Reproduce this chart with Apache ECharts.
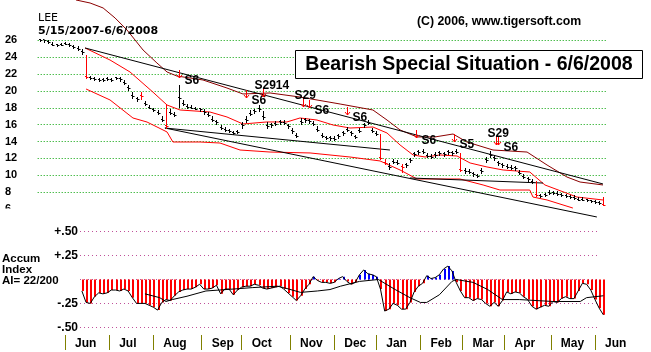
<!DOCTYPE html>
<html><head><meta charset="utf-8">
<script src="https://cdn.jsdelivr.net/npm/echarts@6/dist/echarts.min.js"></script>
<style>html,body{margin:0;padding:0;background:#fff}#c{width:651px;height:352px}</style>
</head><body><div id="c"></div>
<script>
// ---------- DATA ----------
const ticker = 'LEE';
const dateRange = '5/15/2007-6/6/2008';
const copyright = '(C) 2006, www.tigersoft.com';
const titleText = 'Bearish Special Situation - 6/6/2008';
const aiText = 'Accum\nIndex\nAI= 22/200';
const monthNames = ['Jun','Jul','Aug','Sep','Oct','Nov','Dec','Jan','Feb','Mar','Apr','May','Jun'];
const monthStartDays = [12,33,54,77,96,119,140,160,181,201,221,243,264]; // trading-day index
const barStep = 2; // one bar every 2 trading days, starting day 0 (5/15/2007)
const closes = [26.0,26.0,25.8,25.5,25.4,25.4,25.6,25.5,25.2,25.0,
 24.6,21.6,21.5,21.4,21.3,21.3,21.4,21.3,21.5,21.4,
 21.0,20.3,19.4,19.0,19.4,18.4,18.0,17.7,17.4,16.6,
 15.8,17.4,17.2,19.2,18.5,18.1,18.0,17.9,17.8,17.5,
 17.2,16.6,16.3,15.6,15.4,15.2,15.0,15.1,16.0,16.6,
 17.3,17.6,17.9,16.9,15.8,15.9,16.1,16.3,16.2,15.8,
 15.2,14.6,16.3,16.5,16.4,16.1,15.4,14.7,14.4,14.4,
 14.3,14.6,15.0,15.4,15.0,14.5,15.3,15.9,16.2,15.3,
 14.9,12.0,11.5,11.0,11.6,11.5,11.0,11.2,11.8,12.5,
 12.7,12.8,12.3,12.2,12.4,12.6,12.5,12.7,12.6,12.8,
 10.6,10.5,10.4,10.1,9.9,10.5,11.8,12.4,12.0,11.4,
 11.2,11.0,10.9,10.8,10.3,9.8,9.5,9.2,7.6,7.5,
 7.6,7.9,7.9,7.8,7.6,7.5,7.4,7.3,7.1,7.1,
 7.0,6.9,6.8,6.7,6.5];
const highs = [26.2,26.1,26.0,25.8,25.6,25.7,25.8,25.7,25.4,25.3,
 25.0,24.3,21.8,21.6,21.5,21.5,21.6,21.5,21.7,21.6,
 21.3,20.7,19.9,19.3,19.9,18.8,18.3,18.0,17.7,17.0,
 18.3,17.8,17.5,20.7,18.9,18.4,18.3,18.1,18.0,17.8,
 17.5,17.0,16.6,16.0,15.7,15.5,15.3,15.4,16.3,17.0,
 17.7,17.9,18.3,17.6,16.3,16.2,16.4,16.6,16.5,16.1,
 15.6,15.0,16.8,16.8,16.7,16.4,15.8,15.0,14.7,14.6,
 14.6,14.9,15.3,15.7,15.3,14.8,15.6,16.2,16.5,15.6,
 15.2,14.9,11.9,11.4,11.9,11.8,11.3,11.5,12.1,12.8,
 13.0,13.1,12.6,12.5,12.7,12.9,12.8,13.0,12.9,13.1,
 12.6,10.8,10.7,10.4,10.2,10.8,12.2,12.9,12.3,11.7,
 11.5,11.3,11.2,11.1,10.6,10.1,9.8,9.5,9.3,7.8,
 7.9,8.2,8.1,8.1,7.9,7.8,7.7,7.6,7.4,7.4,
 7.2,7.1,7.0,6.9,7.4];
const lows = [25.8,25.7,25.6,25.3,25.2,25.3,25.4,25.2,25.0,24.8,
 24.3,21.4,21.3,21.2,21.1,21.1,21.2,21.1,21.3,21.1,
 20.7,20.0,19.1,18.7,18.9,18.2,17.8,17.5,17.1,16.3,
 15.5,17.1,16.9,18.0,18.2,17.9,17.8,17.7,17.5,17.2,
 16.9,16.3,16.0,15.4,15.1,15.0,14.8,14.9,15.5,16.2,
 17.0,17.3,17.5,16.6,15.5,15.6,15.8,16.0,15.9,15.5,
 14.9,14.4,15.9,16.2,16.1,15.8,15.1,14.4,14.2,14.1,
 14.1,14.3,14.7,15.1,14.7,14.3,15.0,15.6,15.9,15.0,
 14.6,11.8,11.2,10.6,11.3,11.2,10.3,10.9,11.5,12.2,
 12.4,12.5,12.0,11.9,12.1,12.3,12.2,12.4,12.3,12.5,
 10.4,10.2,10.1,9.8,9.7,10.2,11.4,12.1,11.7,11.1,
 10.9,10.7,10.6,10.5,10.0,9.5,9.2,9.0,7.4,7.3,
 7.4,7.6,7.6,7.5,7.4,7.3,7.2,7.1,6.9,6.9,
 6.8,6.7,6.6,6.5,6.4];
const redBarDays = [22,48,60,162,164,172,200,236,268];
// bands: [trading day, price]
const upperBand = [[17.2,30.8],[23.9,30.44],[30.1,29.85],[35.8,28.66],[41.5,27.23],[49.1,24.86],[55.7,23.32],[60.5,22.25],[65.2,21.77],[71.4,21.54],[77.6,21.3],[89,20.35],[96.6,19.64],[109.5,19.76],[123.7,19.28],[142.8,18.45],[158.4,17.74],[165.1,16.55],[171.3,15.37],[179.4,14.54],[187.9,14.54],[196.5,14.89],[203.1,13.94],[215.5,12.99],[231.7,12.75],[241.2,11.21],[250.7,9.78],[256.9,9.19],[267.8,8.84]];
const avgLine = [[21.5,25.1],[33.4,23.67],[42.9,22.25],[53.8,19.86],[60.5,18.33],[66.7,17.74],[80.9,17.5],[89,16.91],[96.6,16.08],[108,16.32],[117.5,16.32],[123.7,16.79],[131.8,16.55],[139.4,15.96],[147.5,15.6],[158.4,15.72],[165.1,15.01],[171.3,13.59],[177.5,12.4],[183.2,12.16],[190.3,12.4],[198.4,12.28],[204.6,11.45],[212.6,10.98],[220.3,10.62],[233,10.38],[240.2,8.84],[255.4,7.41],[267.8,7.06]];
const lowerBand = [[22,20.23],[33.4,18.93],[44.3,16.79],[51,16.31],[60.5,15.13],[63.3,13.94],[76.2,13.94],[85.7,13.82],[95.2,12.99],[109.5,12.75],[128.5,12.64],[147.5,12.16],[161.8,11.69],[171.3,10.62],[179.4,9.55],[199.8,9.55],[210.8,8.84],[218.8,8.24],[233,8.24],[234.5,7.41],[241.2,7.06],[253.5,6.1]];
const trendLines = [
  [[21.5,25.1],[267.8,8.96]],
  [[59.5,15.6],[264.9,5.04]],
  [[59.5,15.6],[166.5,12.99]],
  [[176,9.67],[239.3,9.07]]
];
// signals
const sigDays   = [66, 98, 106, 125, 128, 146, 179, 197, 217, 218];
const sigLevels = [21.54, 19.16, 19.28, 18.1, 17.98, 17.15, 14.42, 13.94, 13.58, 13.58];
const sigLabels = ['S6','S6','S2914','S29','S6','S6','S6','S5','S29','S6'];
// accumulation index
const aiStartDay = 20;
const aiValues = [-0.12,-0.24,-0.25,-0.18,-0.14,-0.15,-0.14,-0.11,-0.11,-0.12,
 -0.10,-0.12,-0.19,-0.25,-0.25,-0.25,-0.27,-0.29,-0.32,-0.24,
 -0.21,-0.22,-0.17,-0.13,-0.11,-0.10,-0.10,-0.08,-0.05,-0.10,
 -0.10,-0.09,-0.06,-0.15,-0.10,-0.10,-0.16,-0.11,-0.08,-0.07,
 -0.07,-0.05,-0.06,-0.09,-0.10,-0.09,-0.08,-0.07,-0.10,-0.14,
 -0.18,-0.22,-0.17,-0.10,-0.05,0.03,-0.01,-0.03,-0.03,-0.04,
 -0.03,0.01,0.03,-0.02,-0.05,-0.03,0.05,0.10,0.06,0.05,
 0.03,-0.10,-0.33,-0.31,-0.25,-0.27,-0.31,-0.31,-0.24,-0.13,
 -0.07,-0.04,0.04,0.01,0.02,0.05,0.11,0.14,0.09,-0.03,
 -0.12,-0.19,-0.19,-0.22,-0.20,-0.21,-0.25,-0.28,-0.24,-0.28,
 -0.22,-0.13,-0.15,-0.13,-0.14,-0.18,-0.21,-0.28,-0.31,-0.29,
 -0.27,-0.28,-0.23,-0.24,-0.20,-0.18,-0.20,-0.20,-0.12,-0.04,
 -0.05,-0.11,-0.21,-0.30,-0.37];
const aiAvg = [[50,-0.15],[57,-0.19],[60,-0.23],[63,-0.21],[70,-0.175],[79,-0.12],[92,-0.10],[101,-0.085],[113,-0.07],[116,-0.085],[124,-0.135],[132,-0.12],[138,-0.105],[143,-0.07],[152,-0.02],[161,0],[169,-0.105],[176,-0.19],[181,-0.24],[184,-0.24],[190,-0.16],[196,-0.02],[198,0],[206,-0.03],[213,-0.105],[220,-0.21],[228,-0.21],[244,-0.23],[257,-0.23],[260,-0.19],[268,-0.17]];
const priceMin = 6, priceMax = 26, priceStep = 2;
const aiMin = -0.5, aiMax = 0.5, aiStep = 0.25;

// ---------- CHART ----------
const F = '"Liberation Sans", Arial, sans-serif';
const chart = echarts.init(document.getElementById('c'));
const dayMin = -1, dayMax = 270;
const GL = 37.7, GW = 569.9;

const barData = closes.map((c, i) => [i * barStep, lows[i], highs[i], c, redBarDays.includes(i * barStep) ? 1 : 0]);
const aiData = aiValues.map((v, i) => [aiStartDay + i * barStep, v]);
const sigData = sigDays.map((d, i) => [d, sigLevels[i], i]);

function lineSeries(data, color, xi, yi, z) {
  return {type:'line', xAxisIndex:xi, yAxisIndex:yi, data, symbol:'none', showSymbol:false, clip:false,
    silent:true, animation:false, z:z||2, lineStyle:{color, width:1}};
}

const series = [
  lineSeries(upperBand, '#8b0000', 0, 0),
  lineSeries(avgLine, '#ff0000', 0, 0),
  lineSeries(lowerBand, '#ff0000', 0, 0),
  ...trendLines.map(t => lineSeries(t, '#000000', 0, 0, 3)),
  {
    type:'custom', xAxisIndex:0, yAxisIndex:0, data:barData, z:5, clip:false, silent:true,
    renderItem(params, api) {
      const d = api.value(0), lo = api.value(1), hi = api.value(2), cl = api.value(3), red = api.value(4);
      const pL = api.coord([d, lo]), pH = api.coord([d, hi]), pC = api.coord([d, cl]);
      const x = Math.round(pL[0]) + 0.5;
      const col = red ? '#ff0000' : '#000000';
      const yc = Math.round(pC[1]) + 0.5;
      return {type:'group', children:[
        {type:'line', shape:{x1:x, y1:Math.round(pH[1]), x2:x, y2:Math.max(Math.round(pL[1]), Math.round(pH[1]) + 2)}, style:{stroke:col, lineWidth:1}},
        {type:'line', shape:{x1:x, y1:yc, x2:x + 2, y2:yc}, style:{stroke:col, lineWidth:1}},
        {type:'line', shape:{x1:x - 1.5, y1:yc - 1, x2:x, y2:yc - 1}, style:{stroke:col, lineWidth:1}}
      ]};
    }
  },
  {
    type:'custom', xAxisIndex:0, yAxisIndex:0, data:sigData, z:6, clip:false, silent:true,
    renderItem(params, api) {
      const d = api.value(0), lv = api.value(1), idx = api.value(2);
      const p = api.coord([d, lv]);
      const x = Math.round(p[0]) + 0.5, tip = Math.round(p[1]);
      const lab = sigLabels[idx];
      const above = lab.indexOf('S29') === 0;
      return {type:'group', children:[
        {type:'line', shape:{x1:x, y1:tip - 8, x2:x, y2:tip}, style:{stroke:'#ff0000', lineWidth:1}},
        {type:'polyline', shape:{points:[[x - 2.5, tip - 3], [x, tip], [x + 2.5, tip - 3]]}, style:{stroke:'#ff0000', fill:null, lineWidth:1}},
        {type:'text', x: above ? x - 9 : x + 5, y: above ? tip - 11 : tip + 3,
          style:{text:lab, fill:'#000', font:'bold 12px ' + F, align:'left', verticalAlign:'middle'}}
      ]};
    }
  },
  {
    type:'custom', xAxisIndex:1, yAxisIndex:1, data:aiData, z:4, silent:true,
    renderItem(params, api) {
      const d = api.value(0), v = api.value(1);
      const p0 = api.coord([d, 0]), p1 = api.coord([d, v]);
      const x = Math.round(p0[0]);
      return {type:'rect', shape:{x:x, y:Math.min(p0[1], p1[1]), width:2, height:Math.abs(p1[1] - p0[1])},
        style:{fill: v >= 0 ? '#0000ff' : '#ff0000'}};
    }
  },
  lineSeries(aiData, '#000000', 1, 1, 5),
  lineSeries(aiAvg, '#000000', 1, 1, 5)
];

const hiddenX = gi => ({gridIndex:gi, type:'value', min:dayMin, max:dayMax, show:false});

chart.setOption({
  animation:false,
  backgroundColor:'#ffffff',
  grid:[
    {left:GL, width:GW, top:40.4, height:168.5},
    {left:GL, width:GW, top:231.7, height:95.6},
    {left:80, right:51, top:231.7, height:95.6},
    {left:GL, width:GW, top:335, height:15}
  ],
  xAxis:[
    hiddenX(0), hiddenX(1),
    {gridIndex:2, type:'value', min:0, max:1, show:false},
    {gridIndex:3, type:'value', min:dayMin, max:dayMax, position:'bottom',
      axisLine:{show:false}, splitLine:{show:false},
      axisTick:{show:true, inside:true, length:15, customValues:monthStartDays, lineStyle:{color:'#808000', width:1}},
      axisLabel:{show:true, customValues:monthStartDays, formatter:v => monthNames[monthStartDays.indexOf(v)],
        align:'left', padding:[0,0,0,10], margin:-12, verticalAlign:'top',
        fontWeight:'bold', fontSize:12, fontFamily:F, color:'#000'}}
  ],
  yAxis:[
    {gridIndex:0, type:'value', min:priceMin, max:priceMax, interval:priceStep,
      axisLine:{show:false}, axisTick:{show:false},
      axisLabel:{align:'left', margin:32.7, fontWeight:'bold', fontSize:11, fontFamily:F, color:'#000'},
      splitLine:{show:true, showMinLine:false, lineStyle:{color:'#00a000', type:[1,2], width:1}}},
    {gridIndex:1, type:'value', min:aiMin, max:aiMax, show:false},
    {gridIndex:2, type:'value', min:aiMin, max:aiMax, interval:aiStep,
      axisLine:{show:false}, axisTick:{show:false},
      axisLabel:{margin:2, fontWeight:'bold', fontSize:12, fontFamily:F, color:'#000',
        formatter:v => Math.abs(v) < 1e-9 ? '' : (v > 0 ? '+' : '-') + Math.abs(v).toFixed(2).slice(1)},
      splitLine:{show:true, lineStyle:{color:'#c0509a', type:[1,3], width:1}}},
    {gridIndex:3, type:'value', show:false}
  ],
  graphic:[
    {type:'rect', left:0, top:208.5, shape:{width:36, height:16}, style:{fill:'#fff'}, z:50},
    {type:'text', x:38, y:18.5, style:{text:ticker, font:'11px "DejaVu Sans"', fill:'#000', verticalAlign:'middle'}, z:50},
    {type:'text', x:38, y:31, style:{text:dateRange, font:'bold 11px "DejaVu Sans"', fill:'#000', verticalAlign:'middle'}, z:50},
    {type:'text', x:417, y:22, style:{text:copyright, font:'bold 12.3px ' + F, fill:'#000', verticalAlign:'middle'}, z:50},
    {type:'rect', shape:{x:295.5, y:50.5, width:347, height:28}, style:{fill:'#fff', stroke:'#000', lineWidth:1}, z:50},
    {type:'text', x:469, y:64.5, style:{text:titleText, font:'bold 19.5px ' + F, fill:'#000', align:'center', verticalAlign:'middle'}, z:51},
    {type:'text', x:2, y:253.5, style:{text:aiText, font:'bold 11.5px ' + F, lineHeight:11, fill:'#000'}, z:50}
  ],
  series
});
</script></body></html>
